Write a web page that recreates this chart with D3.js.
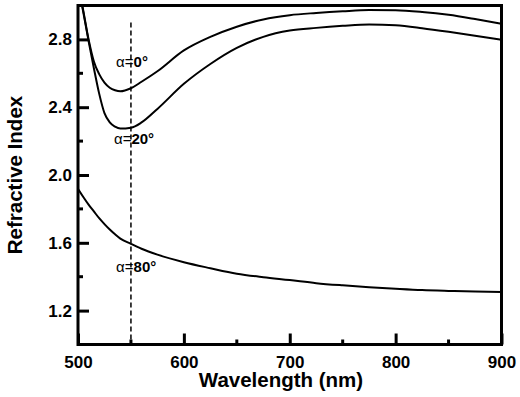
<!DOCTYPE html>
<html>
<head>
<meta charset="utf-8">
<script src="https://cdn.jsdelivr.net/npm/d3@7"></script>
<style>
  body { margin: 0; background: #fff; }
  svg { display: block; font-family: "Liberation Sans", Arial, sans-serif; }
  .curve { fill: none; stroke: #000; stroke-width: 2; }
</style>
</head>
<body>
<div id="chart"></div>
<script>
// wavelength grid (nm) shared by all three curves
var wavelength = [500, 505, 510, 515, 520, 525, 530, 535, 540, 550, 560, 575, 600, 625, 650,
                  675, 700, 725, 750, 775, 800, 825, 850, 875, 900];
// refractive index
var nAlpha0  = [3.14, 2.97, 2.80, 2.67, 2.595, 2.545, 2.515, 2.50, 2.494, 2.512, 2.55, 2.612, 2.735, 2.815,
                2.875, 2.918, 2.943, 2.956, 2.966, 2.973, 2.972, 2.962, 2.945, 2.92, 2.892];
var nAlpha20 = [3.12, 2.96, 2.79, 2.63, 2.48, 2.365, 2.31, 2.285, 2.274, 2.279, 2.31, 2.39, 2.538, 2.655,
                2.75, 2.815, 2.852, 2.868, 2.88, 2.888, 2.883, 2.866, 2.845, 2.822, 2.798];
var nAlpha80 = [1.918, 1.87, 1.825, 1.785, 1.745, 1.71, 1.678, 1.65, 1.625, 1.594, 1.565, 1.53, 1.485, 1.45,
                1.418, 1.397, 1.38, 1.362, 1.349, 1.338, 1.329, 1.321, 1.316, 1.312, 1.309];
var series = [nAlpha0, nAlpha20, nAlpha80];

// curve labels: angle text and where the label sits (wavelength, index)
var labelText = ["0°", "20°", "80°"];
var labelAt = [[536, 2.64], [534, 2.18], [536, 1.43]];

var xTicks = [500, 600, 700, 800, 900],
    xMinor = [550, 650, 750, 850],
    yTicks = [1.2, 1.6, 2.0, 2.4, 2.8],
    yMinor = [1.4, 1.8, 2.2, 2.6],
    markWl = 550; // dashed marker line

var width = 520, height = 397,
    margin = {top: 5.5, right: 18.5, bottom: 52.5, left: 78};

var xScale = d3.scaleLinear().domain([500, 900]).range([margin.left, width - margin.right]),
    yScale = d3.scaleLinear().domain([1.0, 3.0]).range([height - margin.bottom, margin.top]);

var svg = d3.select("#chart").append("svg")
    .attr("width", width)
    .attr("height", height);

svg.append("clipPath").attr("id", "plotclip")
  .append("rect")
    .attr("x", margin.left).attr("y", margin.top)
    .attr("width", xScale(900) - xScale(500))
    .attr("height", yScale(1.0) - yScale(3.0));

// the three curves
var line = d3.line()
    .x(function(d, i) { return xScale(wavelength[i]); })
    .y(function(d) { return yScale(d); })
    .curve(d3.curveMonotoneX);

svg.append("g").attr("clip-path", "url(#plotclip)")
  .selectAll("path")
  .data(series)
  .enter().append("path")
    .attr("class", "curve")
    .attr("d", line);

// dashed line at 550 nm
svg.append("line")
    .attr("x1", xScale(markWl)).attr("x2", xScale(markWl))
    .attr("y1", yScale(2.9)).attr("y2", yScale(1.0))
    .attr("stroke", "#000")
    .attr("stroke-width", 1.5)
    .attr("stroke-dasharray", "5,3");

// curve labels
var lab = svg.selectAll(".lab")
    .data(labelText)
    .enter().append("text")
    .attr("class", "lab")
    .attr("x", function(d, i) { return xScale(labelAt[i][0]); })
    .attr("y", function(d, i) { return yScale(labelAt[i][1]); })
    .attr("font-size", 15);
lab.append("tspan").text("α=");
lab.append("tspan").attr("font-weight", "bold").text(function(d) { return d; });

// axes: ticks point inward, labels outside
var xAxis = d3.axisBottom(xScale).tickValues(xTicks).tickSize(-11).tickPadding(11),
    yAxis = d3.axisLeft(yScale).tickValues(yTicks).tickSize(-11).tickPadding(6)
      .tickFormat(d3.format(".1f"));

var gx = svg.append("g")
    .attr("transform", "translate(0," + yScale(1.0) + ")")
    .call(xAxis);
var gy = svg.append("g")
    .attr("transform", "translate(" + xScale(500) + ",0)")
    .call(yAxis);

[gx, gy].forEach(function(g) {
    g.select(".domain").remove();
    g.selectAll(".tick line").attr("stroke-width", 3);
    g.selectAll(".tick text")
      .attr("font-size", 17)
      .attr("font-weight", "bold")
      .attr("font-family", "'Liberation Sans', Arial, sans-serif")
      .attr("fill", "#000");
});

// minor ticks
svg.append("g").selectAll("line").data(xMinor).enter().append("line")
    .attr("x1", xScale).attr("x2", xScale)
    .attr("y1", yScale(1.0)).attr("y2", yScale(1.0) - 5)
    .attr("stroke", "#000").attr("stroke-width", 3);
svg.append("g").selectAll("line").data(yMinor).enter().append("line")
    .attr("x1", xScale(500)).attr("x2", xScale(500) + 5)
    .attr("y1", yScale).attr("y2", yScale)
    .attr("stroke", "#000").attr("stroke-width", 3);

// frame box
svg.append("rect")
    .attr("x", xScale(500)).attr("y", yScale(3.0))
    .attr("width", xScale(900) - xScale(500))
    .attr("height", yScale(1.0) - yScale(3.0))
    .attr("fill", "none")
    .attr("stroke", "#000")
    .attr("stroke-width", 3);

// axis titles
svg.append("text")
    .attr("x", 281).attr("y", 387)
    .attr("text-anchor", "middle")
    .attr("font-size", 20.5).attr("font-weight", "bold")
    .text("Wavelength (nm)");
svg.append("text")
    .attr("transform", "translate(22,175) rotate(-90)")
    .attr("text-anchor", "middle")
    .attr("font-size", 20.5).attr("font-weight", "bold")
    .text("Refractive Index");
</script>
</body>
</html>
